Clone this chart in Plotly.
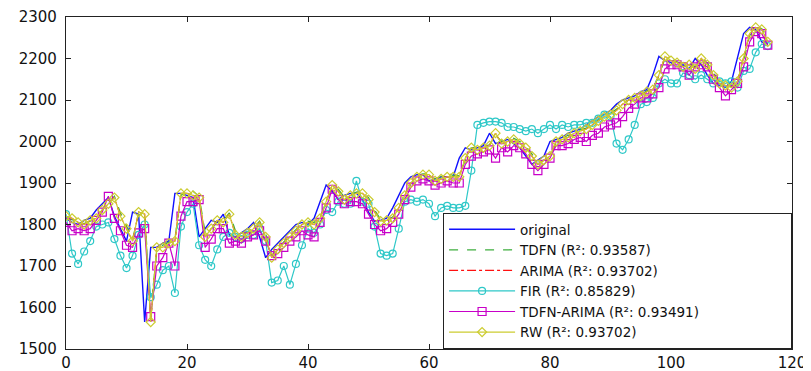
import plotly.graph_objects as go

x = list(range(117))

original = [1815,1805,1800,1810,1815,1835,1850,1865,1820,1790,
            1760,1830,1825,1565,1745,1745,1755,1760,1875,1875,
            1870,1865,1770,1790,1810,1805,1825,1775,1770,1780,
            1790,1805,1770,1720,1740,1755,1770,1785,1800,1805,
            1800,1815,1855,1895,1880,1860,1870,1875,1875,1860,
            1830,1808,1810,1815,1840,1870,1900,1915,1920,1920,
            1905,1910,1915,1915,1915,1960,1985,1980,1985,1990,
            2020,1995,2000,2005,1995,1985,1965,1945,1955,1965,
            2000,2005,2010,2020,2025,2030,2040,2050,2060,2065,
            2075,2090,2100,2105,2110,2120,2125,2160,2205,2195,
            2190,2180,2185,2175,2200,2185,2160,2140,2135,2130,
            2145,2200,2260,2275,2270,2240,2235]

tdfn = [1815,1812,1808,1802,1808,1818,1835,1852,1868,1828,
        1795,1765,1822,1830,1590,1735,1750,1758,1765,1870,
        1882,1880,1868,1780,1788,1808,1810,1828,1785,1772,
        1782,1792,1808,1778,1725,1738,1758,1772,1788,1802,
        1808,1805,1818,1852,1893,1885,1866,1872,1878,1880,
        1865,1835,1812,1812,1818,1842,1868,1898,1918,1922,
        1922,1910,1915,1925,1918,1918,1955,1985,1985,1988,
        1992,2015,2000,2002,2008,2000,1988,1970,1950,1955,
        1965,1995,2008,2015,2020,2028,2032,2042,2052,2062,
        2068,2078,2092,2100,2108,2112,2122,2128,2158,2200,
        2198,2192,2185,2188,2180,2198,2190,2165,2145,2138,
        2132,2145,2195,2255,2275,2272,2245]

arima = [1820,1815,1805,1800,1810,1815,1835,1850,1865,1820,
         1790,1760,1830,1825,1565,1745,1745,1755,1760,1875,
         1875,1870,1865,1770,1790,1810,1805,1825,1775,1770,
         1780,1790,1805,1770,1720,1740,1755,1770,1785,1800,
         1805,1800,1815,1855,1895,1880,1860,1870,1875,1875,
         1860,1830,1808,1810,1815,1840,1870,1900,1915,1920,
         1920,1905,1910,1915,1915,1915,1960,1985,1980,1985,
         1990,2020,1995,2000,2005,1995,1985,1965,1945,1955,
         1965,2000,2005,2010,2020,2025,2030,2040,2050,2060,
         2065,2075,2090,2100,2105,2110,2120,2125,2160,2205,
         2195,2190,2180,2185,2175,2200,2185,2160,2140,2135,
         2130,2145,2200,2260,2275,2270,2240]

fir = [1825,1730,1705,1735,1760,1795,1800,1805,1765,1725,
       1695,1725,1775,1800,1625,1655,1690,1700,1635,1795,
       1830,1850,1750,1715,1700,1740,1770,1780,1770,1765,
       1775,1775,1790,1760,1660,1665,1700,1655,1705,1750,
       1790,1780,1800,1835,1830,1855,1850,1850,1905,1855,
       1850,1795,1730,1725,1730,1790,1855,1860,1855,1860,
       1850,1820,1840,1845,1840,1840,1845,1930,2040,2045,
       2048,2048,2045,2035,2035,2030,2025,2030,2020,2030,
       2040,2030,2040,2035,2040,2040,2045,2045,2055,2065,
       2060,1995,1980,2005,2040,2090,2095,2105,2140,2150,
       2140,2140,2165,2160,2150,2160,2150,2140,2145,2140,
       2145,2130,2170,2175,2215,2235,2230]

tdfn_arima = [1805,1785,1790,1785,1790,1810,1830,1868,1815,1785,
              1750,1745,1780,1790,1578,1700,1720,1755,1700,1820,
              1855,1855,1860,1745,1765,1790,1790,1755,1760,1755,
              1770,1775,1785,1760,1725,1730,1745,1760,1770,1785,
              1775,1770,1805,1840,1885,1860,1850,1855,1855,1850,
              1825,1800,1785,1790,1805,1825,1860,1890,1905,1910,
              1905,1895,1900,1905,1900,1900,1945,1965,1970,1975,
              1980,1960,1985,1975,1990,1985,1970,1945,1930,1945,
              1960,1990,1990,1995,2005,2010,2000,2015,2020,2035,
              2040,2045,2060,2080,2090,2105,2105,2115,2130,2175,
              2185,2185,2180,2160,2180,2185,2180,2150,2130,2110,
              2125,2140,2180,2240,2265,2260,2232]

rw = [1820,1815,1805,1800,1810,1815,1835,1850,1865,1820,
      1790,1760,1830,1825,1565,1745,1745,1755,1760,1875,
      1875,1870,1865,1770,1790,1810,1805,1825,1775,1770,
      1780,1790,1805,1770,1720,1740,1755,1770,1785,1800,
      1805,1800,1815,1855,1895,1880,1860,1870,1875,1875,
      1860,1830,1808,1810,1815,1840,1870,1900,1915,1920,
      1920,1905,1910,1915,1915,1915,1960,1985,1980,1985,
      1990,2020,1995,2000,2005,1995,1985,1965,1945,1955,
      1965,2000,2005,2010,2020,2025,2030,2040,2050,2060,
      2065,2075,2090,2100,2105,2110,2120,2125,2160,2205,
      2195,2190,2180,2185,2175,2200,2185,2160,2140,2135,
      2130,2145,2200,2260,2275,2270,2240]

names = ["original", "TDFN (R²: 0.93587)", "ARIMA (R²: 0.93702)",
         "FIR (R²: 0.85829)", "TDFN-ARIMA (R²: 0.93491)", "RW (R²: 0.93702)"]

fig = go.Figure()
fig.add_trace(go.Scatter(x=x, y=original, name=names[0], mode="lines",
                         line=dict(color="#1010ff", width=1.4)))
fig.add_trace(go.Scatter(x=x, y=tdfn, name=names[1], mode="lines",
                         line=dict(color="#3fae3f", width=1.3, dash="dash")))
fig.add_trace(go.Scatter(x=x, y=arima, name=names[2], mode="lines",
                         line=dict(color="#ff1010", width=1.2, dash="dashdot")))
fig.add_trace(go.Scatter(x=x, y=fir, name=names[3], mode="lines+markers",
                         line=dict(color="#2ec8c8", width=1.2),
                         marker=dict(symbol="circle-open", size=7, color="#2ec8c8", line=dict(width=1.2))))
fig.add_trace(go.Scatter(x=x, y=tdfn_arima, name=names[4], mode="lines+markers",
                         line=dict(color="#c800c8", width=1.2),
                         marker=dict(symbol="square-open", size=8, color="#c800c8", line=dict(width=1.2))))
fig.add_trace(go.Scatter(x=x, y=rw, name=names[5], mode="lines+markers",
                         line=dict(color="#cccc30", width=1.2),
                         marker=dict(symbol="diamond-open", size=7, color="#cccc30", line=dict(width=1.2))))

axis_common = dict(showgrid=False, zeroline=False, showline=True, linecolor="#222222",
                   linewidth=1.2, mirror="ticks", ticks="inside", ticklen=5,
                   tickcolor="#222222", automargin=False,
                   tickfont=dict(family="DejaVu Sans", size=15, color="#111111"))

fig.update_layout(
    width=803, height=363,
    margin=dict(l=58, r=19, t=9, b=22),
    paper_bgcolor="white", plot_bgcolor="white",
    xaxis=dict(range=[0, 120], tickvals=[0, 20, 40, 60, 80, 100, 120], **axis_common),
    yaxis=dict(range=[1500, 2300], tickvals=[1500, 1600, 1700, 1800, 1900, 2000, 2100, 2200, 2300],
               ticklabelstandoff=5, **axis_common),
    legend=dict(x=1.0001, y=0, xanchor="right", yanchor="bottom",
                orientation="h", entrywidth=266, entrywidthmode="pixels",
                bgcolor="white", bordercolor="#222222", borderwidth=1,
                font=dict(family="DejaVu Sans", size=13.5, color="#111111"),
                itemwidth=66, tracegroupgap=0),
    showlegend=True,
)

fig.write_html("out.html")
